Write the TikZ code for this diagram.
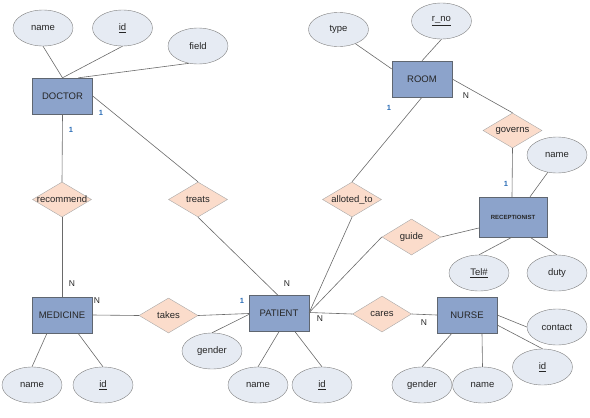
\documentclass[tikz,border=0pt]{standalone}
\usepackage{fontspec}
\setmainfont{Liberation Sans}
\usetikzlibrary{shapes.geometric}
\definecolor{entfill}{HTML}{8CA3CB}
\definecolor{entdraw}{HTML}{5F6670}
\definecolor{attfill}{HTML}{E6EBF3}
\definecolor{attdraw}{HTML}{808080}
\definecolor{relfill}{HTML}{FBDCCB}
\definecolor{reldraw}{HTML}{A8A8A8}
\definecolor{linecol}{HTML}{6A6A6A}
\definecolor{onecol}{HTML}{2A6CB5}
\definecolor{txtcol}{HTML}{262626}
\tikzset{
  entity/.style={rectangle, draw=entdraw, fill=entfill, minimum width=60pt, minimum height=36pt, inner sep=0pt, font=\fontsize{9.5}{10}\selectfont, text=txtcol},
  attr/.style={ellipse, draw=attdraw, fill=attfill, minimum width=60pt, minimum height=36pt, inner sep=0pt, font=\fontsize{9.5}{10}\selectfont, text=txtcol},
  rel/.style={diamond, draw=reldraw, fill=relfill, minimum width=59pt, minimum height=35pt, inner sep=0pt},
  reltext/.style={font=\fontsize{9.5}{10}\selectfont, text=txtcol, inner sep=0pt},
  conn/.style={draw=linecol, line width=0.6pt},
  onelab/.style={font=\bfseries\fontsize{7.5}{8}\selectfont, text=onecol, inner sep=0pt},
  nlab/.style={font=\fontsize{8.5}{9}\selectfont, text=txtcol, inner sep=0pt}
}
\begin{document}
\begin{tikzpicture}[x=1pt,y=-1pt]
\useasboundingbox (0,0) rectangle (590,418);
% entities
\node[entity] (doc) at (62.5,96) {DOCTOR};
\node[entity] (med) at (62,315) {MEDICINE};
\node[entity] (pat) at (279,313.5) {PATIENT};
\node[entity] (room) at (422,79) {ROOM};
\node[entity, minimum width=68pt, minimum height=40pt, font=\bfseries\fontsize{6}{7}\selectfont] (rec) at (513,217) {RECEPTIONIST};
\node[entity] (nur) at (467,315) {NURSE};
% relationships
\node[rel] (recm) at (62,199.5) {};
\node[reltext] at (recm) {recommend};
\node[rel] (trt) at (198,199.5) {};
\node[reltext] at (trt) {treats};
\node[rel] (tak) at (168.5,315.5) {};
\node[reltext] at (tak) {takes};
\node[rel] (all) at (352,199.5) {};
\node[reltext] at (all) {alloted\_to};
\node[rel] (gov) at (512.5,130.5) {};
\node[reltext] at (gov) {governs};
\node[rel, minimum height=36pt] (gui) at (411.5,237) {};
\node[reltext] at (gui) {guide};
\node[rel, minimum height=36pt] (car) at (382,314) {};
\node[reltext] at (car) {cares};
% attributes
\node[attr] (dname) at (43,28) {name};
\node[attr] (did) at (122.5,28) {\underline{id}};
\node[attr] (dfield) at (198,46) {field};
\node[attr] (mname) at (32,385) {name};
\node[attr] (mid) at (103,385) {\underline{id}};
\node[attr] (pgen) at (212,351) {gender};
\node[attr] (pname) at (258,385) {name};
\node[attr] (pid) at (322,385) {\underline{id}};
\node[attr, minimum height=34pt] (rtype) at (338.5,29.5) {type};
\node[attr] (rno) at (441.5,21) {\underline{r\_no}};
\node[attr] (rcname) at (557,155) {name};
\node[attr] (tel) at (479,273) {\underline{Tel\#}};
\node[attr] (duty) at (557,273) {duty};
\node[attr] (ncon) at (557,327) {contact};
\node[attr] (nid) at (542.5,367) {\underline{id}};
\node[attr] (ngen) at (422,385) {gender};
\node[attr] (nname) at (482.5,385) {name};
% connectors
\path[conn] (dname.south) -- (doc.north);
\path[conn] (did.south) -- (doc.north);
\path[conn] (dfield.-118) -- ([xshift=16pt]doc.north);
\path[conn] (doc.east) -- (trt.north);
\path[conn] (doc.south) -- (recm.north);
\path[conn] (recm.south) -- (med.north);
\path[conn] (trt.south) -- ([xshift=-1pt]pat.north);
\path[conn] (med.east) -- (tak.west);
\path[conn] (tak.east) -- (pat.west);
\path[conn] (pgen.north) -- ([yshift=-1pt]pat.west);
\path[conn] (pname.north) -- (pat.south);
\path[conn] (pid.north) -- ([xshift=16pt]pat.south);
\path[conn] (mname.north) -- ([xshift=-15pt]med.south);
\path[conn] (mid.north) -- ([xshift=16pt]med.south);
\path[conn] (rtype.-40) -- ([yshift=10pt]room.west);
\path[conn] (rno.south) -- (room.north);
\path[conn] (room.south) -- (all.north);
\path[conn] (room.east) -- (gov.north);
\path[conn] (gov.south) -- ([xshift=-1pt]rec.north);
\path[conn] (rcname.-118) -- ([xshift=17pt]rec.north);
\path[conn] (all.south) -- ([yshift=1pt]pat.east);
\path[conn] (gui.west) -- ([yshift=1pt]pat.east);
\path[conn] (gui.east) -- ([yshift=-11pt]rec.west);
\path[conn] (tel.north) -- ([xshift=-1pt]rec.south);
\path[conn] (duty.north) -- ([xshift=17pt]rec.south);
\path[conn] ([yshift=1pt]pat.east) -- (car.west);
\path[conn] (car.east) -- (nur.west);
\path[conn] (nur.east) -- (ncon.west);
\path[conn] ([yshift=-10pt]nur.east) -- (nid.north);
\path[conn] (ngen.north) -- ([xshift=-15pt]nur.south);
\path[conn] (nname.north) -- ([xshift=15pt]nur.south);
% cardinality labels
\node[onelab] (c1) at (101,113) {1};
\node[onelab] (c2) at (71,130) {1};
\node[nlab] (c3) at (72,284) {N};
\node[nlab] (c4) at (97,301) {N};
\node[onelab] (c5) at (242,301) {1};
\node[nlab] (c6) at (287,284) {N};
\node[onelab] (c7) at (389,108) {1};
\node[nlab] (c8) at (466,96) {N};
\node[onelab] (c9) at (506,184) {1};
\node[nlab] (c10) at (320,319) {N};
\node[nlab] (c11) at (424,323) {N};
\end{tikzpicture}
\end{document}
